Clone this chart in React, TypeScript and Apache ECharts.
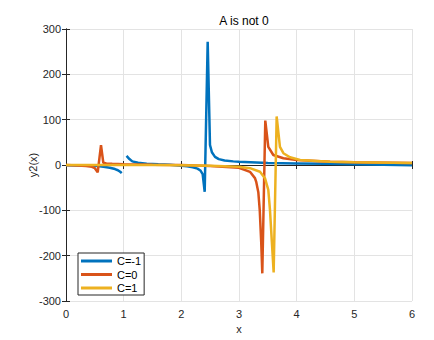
import React, { useEffect, useRef } from "react";
import * as echarts from "echarts";

const xTicks = [0, 1, 2, 3, 4, 5, 6];
const yTicks = [-300, -200, -100, 0, 100, 200, 300];

const seriesNames = ["C=-1", "C=0", "C=1"];
const seriesColors = ["#0072BD", "#D95319", "#EDB120"];

// C = -1
const blueX = [0, 0.2, 0.4, 0.55, 0.65, 0.76, 0.85, 0.9, 0.94, 0.966, 1.0, 1.05, 1.1, 1.15, 1.25, 1.4, 1.6, 1.8, 2.0, 2.1, 2.2, 2.28, 2.33, 2.37, 2.405, 2.457, 2.497, 2.53, 2.584, 2.65, 2.75, 2.9, 3.0, 3.5, 4.0, 4.5, 5.0, 5.5, 6.0];
const blueY = [-0.5, -1, -1.5, -2, -4, -6, -9, -11.5, -15, -18, null, 20, 13, 8, 5, 3, 1.5, 0.5, -1.5, -3, -5, -8, -12, -20, -59, 272, 44, 28, 18, 13, 10, 8, 7, 4.5, 3.5, 2.5, 1.5, 0.5, -0.5];

// C = 0
const redX = [0, 0.2, 0.35, 0.45, 0.5, 0.55, 0.607, 0.647, 0.7, 0.8, 1.0, 1.5, 2.0, 2.5, 3.0, 3.19, 3.277, 3.3, 3.335, 3.36, 3.385, 3.404, 3.456, 3.508, 3.595, 3.77, 4.0, 4.58, 5.0, 6.0];
const redY = [0, -1, -2, -4, -7, -16, 44, 5, 3.5, 2.5, 1.5, 0.5, 0, -2, -6, -15, -29, -38, -60, -100, -170, -239, 98, 40, 22, 15, 11, 7, 6, 4.5];

// C = 1
const yellowX = [0, 0.5, 1.0, 1.5, 2.0, 2.5, 3.0, 3.19, 3.364, 3.45, 3.508, 3.537, 3.57, 3.601, 3.653, 3.71, 3.77, 3.884, 4.06, 4.58, 5.0, 6.0];
const yellowY = [0, 0, 0, 0, -0.5, -1.5, -4, -7, -15, -29, -55, -99, -170, -237, 107, 40, 26, 17, 11, 7, 6, 4.5];

const allX = [blueX, redX, yellowX];
const allY = [blueY, redY, yellowY];

const FONT = "'Liberation Sans', Arial, Helvetica, sans-serif";
const AX = "#262626";

export default function App() {
  const ref = useRef<HTMLDivElement>(null);
  useEffect(() => {
    if (!ref.current) return;
    const chart = echarts.init(ref.current, undefined, { renderer: "svg" });
    const common = {
      type: "value" as const,
      axisLine: { show: true, lineStyle: { color: AX, width: 1 } },
      axisTick: { show: true, inside: true, length: 4, lineStyle: { color: AX } },
    };
    chart.setOption({
      animation: false,
      backgroundColor: "#ffffff",
      title: {
        text: "A is not 0",
        left: 239,
        top: 10,
        textAlign: "center",
        textStyle: { fontFamily: FONT, fontSize: 12, fontWeight: "normal", color: "#000" },
      },
      grid: { left: 66, right: 22, top: 29, bottom: 39, containLabel: false },
      xAxis: [
        {
          ...common,
          position: "bottom",
          min: xTicks[0],
          max: xTicks[xTicks.length - 1],
          interval: 1,
          name: "x",
          nameLocation: "middle",
          nameGap: 22,
          nameMoveOverlap: false,
          nameTextStyle: { fontFamily: FONT, fontSize: 11, color: AX },
          axisLabel: { fontFamily: FONT, fontSize: 11, color: AX, margin: 7 },
          splitLine: { show: true, lineStyle: { color: "#e3e3e3", width: 1 } },
        },
        {
          ...common,
          position: "top",
          min: xTicks[0],
          max: xTicks[xTicks.length - 1],
          interval: 1,
          axisLabel: { show: false },
          splitLine: { show: false },
        },
      ],
      yAxis: [
        {
          ...common,
          position: "left",
          min: yTicks[0],
          max: yTicks[yTicks.length - 1],
          interval: 100,
          name: "y2(x)",
          nameLocation: "middle",
          nameGap: 28,
          nameMoveOverlap: false,
          nameRotate: 90,
          nameTextStyle: { fontFamily: FONT, fontSize: 11, color: AX },
          axisLabel: { fontFamily: FONT, fontSize: 11, color: AX, margin: 5 },
          splitLine: { show: true, lineStyle: { color: "#e3e3e3", width: 1 } },
        },
        {
          ...common,
          position: "right",
          min: yTicks[0],
          max: yTicks[yTicks.length - 1],
          interval: 100,
          axisLabel: { show: false },
          splitLine: { show: false },
        },
      ],
      legend: {
        orient: "vertical",
        left: 78,
        top: 253,
        data: seriesNames,
        icon: "rect",
        itemWidth: 31,
        itemHeight: 3,
        itemGap: 1.5,
        itemTextGap: 2,
        padding: [2, 3, 1, 3],
        borderColor: AX,
        borderWidth: 1,
        backgroundColor: "#ffffff",
        textStyle: { fontFamily: FONT, fontSize: 11, color: "#000", lineHeight: 12 },
      },
      series: seriesNames.map((name, i) => ({
        name,
        type: "line",
        xAxisIndex: 0,
        yAxisIndex: 0,
        showSymbol: false,
        symbol: "none",
        connectNulls: false,
        color: seriesColors[i],
        lineStyle: { color: seriesColors[i], width: 2.5 },
        data: allX[i].map((x, j) => [x, allY[i][j] === null ? "-" : allY[i][j]]),
      })),
    });
    return () => chart.dispose();
  }, []);
  return <div ref={ref} style={{ width: 434, height: 340, position: "absolute", left: 0, top: 0 }} />;
}
